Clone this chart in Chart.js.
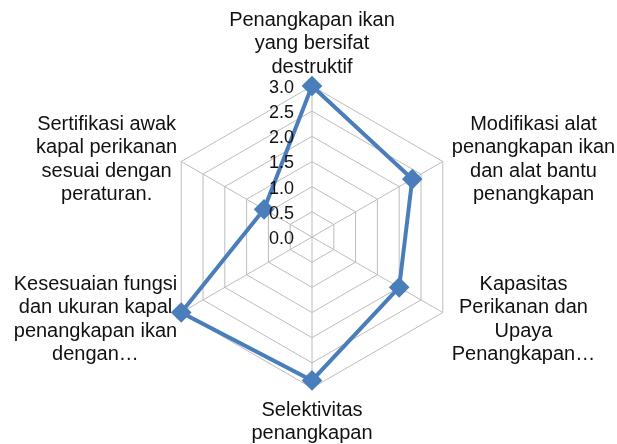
<!DOCTYPE html>
<html lang="id">
<head>
    <meta charset="UTF-8">
    <title>Radar Chart</title>
    <style>
        body {
            margin: 0;
            background-color: #ffffff;
        }
        canvas {
            display: block;
        }
    </style>
</head>
<body>
    <canvas id="radarChart" width="617" height="444"></canvas>

    <script src="https://cdn.jsdelivr.net/npm/chart.js"></script>
    <script>
        const categories = [
            ['Penangkapan ikan', 'yang bersifat', 'destruktif'],
            ['Modifikasi alat', 'penangkapan ikan', 'dan alat bantu', 'penangkapan'],
            ['Kapasitas', 'Perikanan dan', 'Upaya', 'Penangkapan…'],
            ['Selektivitas', 'penangkapan'],
            ['Kesesuaian fungsi', 'dan ukuran kapal', 'penangkapan ikan', 'dengan…'],
            ['Sertifikasi awak', 'kapal perikanan', 'sesuai dengan', 'peraturan.']
        ];
        const scores = [3.0, 2.3, 2.0, 2.85, 3.0, 1.1];
        const tickValues = [0, 0.5, 1.0, 1.5, 2.0, 2.5, 3.0];
        const tickLabels = ['0.0', '0.5', '1.0', '1.5', '2.0', '2.5', '3.0'];

        const fontFamily = '"Liberation Sans", Arial, sans-serif';

        // draws tick numbers (incl. 0.0) and centred multi-line category labels
        const textPlugin = {
            id: 'textPlugin',
            afterDatasetsDraw(chart) {
                const scale = chart.scales.r;
                const ctx = chart.ctx;
                ctx.save();
                ctx.fillStyle = '#111111';

                ctx.font = '18px ' + fontFamily;
                ctx.textAlign = 'right';
                ctx.textBaseline = 'middle';
                tickValues.forEach((v, i) => {
                    const y = scale.yCenter - scale.getDistanceFromCenterForValue(v);
                    ctx.fillText(tickLabels[i], scale.xCenter - 18, y + 2);
                });

                ctx.font = '20px ' + fontFamily;
                ctx.textAlign = 'center';
                const lineH = 23.5;
                const outer = scale.getDistanceFromCenterForValue(scale.max);
                categories.forEach((lines, i) => {
                    const p = scale.getPointPosition(i, outer);
                    const n = lines.length;
                    const dx = p.x - scale.xCenter;
                    const dy = p.y - scale.yCenter;
                    const w = Math.max(...lines.map(t => ctx.measureText(t).width));
                    let cx, cy;
                    if (Math.abs(dx) < 2) {
                        cx = p.x;
                        cy = dy < 0 ? p.y - 19 - (n - 1) * lineH / 2 : p.y + 22 + (n - 1) * lineH / 2;
                    } else {
                        cx = dx > 0 ? p.x + 9 + w / 2 : p.x - 4 - w / 2;
                        cy = dy < 0 ? p.y - 2 : p.y + 7;
                    }
                    lines.forEach((t, k) => {
                        ctx.fillText(t, cx, cy + (k - (n - 1) / 2) * lineH);
                    });
                });
                ctx.restore();
            }
        };

        const ctx = document.getElementById('radarChart').getContext('2d');
        const radarChart = new Chart(ctx, {
            type: 'radar',
            data: {
                labels: categories,
                datasets: [{
                    data: scores,
                    borderColor: '#4a7ebb',
                    backgroundColor: '#4a7ebb',
                    borderWidth: 4,
                    fill: false,
                    pointStyle: 'rectRot',
                    pointRadius: 7.5,
                    pointBackgroundColor: '#4a7ebb',
                    pointBorderColor: '#4a7ebb'
                }]
            },
            options: {
                responsive: false,
                animation: false,
                devicePixelRatio: 1,
                layout: {
                    padding: { top: 86, bottom: 56, left: 7, right: 0 }
                },
                scales: {
                    r: {
                        min: 0,
                        max: 3,
                        ticks: { stepSize: 0.5, display: false },
                        pointLabels: { display: false },
                        grid: { color: '#bcbcbc', lineWidth: 1 },
                        angleLines: { color: '#bcbcbc', lineWidth: 1 }
                    }
                },
                plugins: {
                    legend: { display: false },
                    tooltip: { enabled: false }
                }
            },
            plugins: [textPlugin]
        });
    </script>
</body>
</html>
